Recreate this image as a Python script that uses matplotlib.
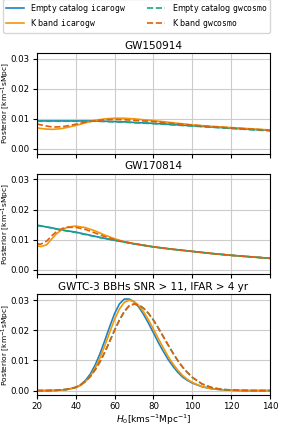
import matplotlib
matplotlib.use("Agg")
import matplotlib.pyplot as plt

# H0 grid used for the two single-event panels
h0_ev = [20, 22, 25, 28, 30, 33, 36, 40, 45, 50, 55, 60, 65, 70, 80, 90, 100, 110, 120, 130, 140]

# GW150914
gw150914_empty_icarogw = [0.0093, 0.0093, 0.0093, 0.0093, 0.0093, 0.0093, 0.0093, 0.0093, 0.0093, 0.0093,
                          0.0092, 0.0091, 0.0090, 0.0088, 0.0085, 0.0081, 0.0077, 0.0073, 0.0069, 0.0065, 0.0062]
gw150914_k_icarogw = [0.0070, 0.0068, 0.0066, 0.0065, 0.0066, 0.0068, 0.0072, 0.0078, 0.0087, 0.0095,
                      0.0100, 0.0102, 0.0102, 0.0100, 0.0094, 0.0087, 0.0080, 0.0075, 0.0071, 0.0067, 0.0063]
gw150914_empty_gwcosmo = [0.0092, 0.0092, 0.0092, 0.0092, 0.0092, 0.0092, 0.0092, 0.0092, 0.0092, 0.0092,
                          0.0091, 0.0090, 0.0089, 0.0087, 0.0084, 0.0080, 0.0076, 0.0072, 0.0068, 0.0064, 0.0060]
gw150914_k_gwcosmo = [0.0083, 0.0080, 0.0076, 0.0073, 0.0073, 0.0074, 0.0077, 0.0082, 0.0089, 0.0094,
                      0.0097, 0.0098, 0.0097, 0.0095, 0.0091, 0.0085, 0.0079, 0.0074, 0.0070, 0.0066, 0.0062]

# GW170814
gw170814_empty_icarogw = [0.0148, 0.0146, 0.0142, 0.0139, 0.0136, 0.0132, 0.0129, 0.0125, 0.0118, 0.0111,
                          0.0104, 0.0098, 0.0092, 0.0086, 0.0076, 0.0068, 0.0061, 0.0054, 0.0048, 0.0043, 0.0038]
gw170814_k_icarogw = [0.0080, 0.0077, 0.0083, 0.0105, 0.0119, 0.0134, 0.0142, 0.0145, 0.0140, 0.0129,
                      0.0115, 0.0103, 0.0093, 0.0087, 0.0076, 0.0068, 0.0061, 0.0054, 0.0048, 0.0043, 0.0038]
gw170814_empty_gwcosmo = [0.0147, 0.0145, 0.0142, 0.0138, 0.0135, 0.0132, 0.0128, 0.0124, 0.0117, 0.0110,
                          0.0104, 0.0098, 0.0092, 0.0086, 0.0076, 0.0068, 0.0061, 0.0054, 0.0048, 0.0043, 0.0038]
gw170814_k_gwcosmo = [0.0086, 0.0085, 0.0095, 0.0115, 0.0126, 0.0137, 0.0141, 0.0141, 0.0134, 0.0122,
                      0.0110, 0.0100, 0.0093, 0.0087, 0.0076, 0.0068, 0.0061, 0.0054, 0.0048, 0.0043, 0.0038]

# GWTC-3 BBHs
h0_cat = [20, 25, 30, 35, 40, 42.5, 45, 47.5, 50, 52.5, 55, 57.5, 60, 62.5, 65, 67.5, 70, 72.5, 75, 77.5,
          80, 82.5, 85, 87.5, 90, 92.5, 95, 97.5, 100, 105, 110, 115, 120, 125, 130, 140]
bbh_empty_icarogw = [0.0, 0.0, 0.00005, 0.0003, 0.0010, 0.0019, 0.0034, 0.0055, 0.0085, 0.0123, 0.0167, 0.0213,
                     0.0256, 0.0288, 0.0304, 0.0304, 0.0295, 0.0277, 0.0252, 0.0223, 0.0192, 0.0160, 0.0131,
                     0.0104, 0.0081, 0.0061, 0.0045, 0.0034, 0.0025, 0.0013, 0.0006, 0.0003, 0.0001, 0.0, 0.0, 0.0]
bbh_k_icarogw = [0.0, 0.0, 0.0001, 0.0003, 0.0010, 0.0017, 0.0030, 0.0048, 0.0075, 0.0109, 0.0150, 0.0194,
                 0.0237, 0.0271, 0.0293, 0.0300, 0.0296, 0.0282, 0.0261, 0.0234, 0.0204, 0.0173, 0.0143,
                 0.0114, 0.0089, 0.0068, 0.0050, 0.0037, 0.0027, 0.0013, 0.0006, 0.0003, 0.0001, 0.0, 0.0, 0.0]
bbh_empty_gwcosmo = [0.0, 0.0, 0.0001, 0.0004, 0.0011, 0.0019, 0.0031, 0.0047, 0.0069, 0.0096, 0.0128, 0.0164,
                     0.0201, 0.0235, 0.0263, 0.0282, 0.0288, 0.0284, 0.0273, 0.0256, 0.0234, 0.0208, 0.0180,
                     0.0152, 0.0125, 0.0100, 0.0078, 0.0060, 0.0044, 0.0022, 0.0010, 0.0004, 0.0002, 0.0001, 0.0, 0.0]
bbh_k_gwcosmo = [0.0, 0.0, 0.0001, 0.0004, 0.0011, 0.0019, 0.0031, 0.0047, 0.0069, 0.0096, 0.0128, 0.0164,
                 0.0200, 0.0234, 0.0262, 0.0281, 0.0287, 0.0284, 0.0273, 0.0256, 0.0234, 0.0208, 0.0180,
                 0.0152, 0.0125, 0.0100, 0.0078, 0.0060, 0.0044, 0.0022, 0.0010, 0.0004, 0.0002, 0.0001, 0.0, 0.0]

titles = ["GW150914", "GW170814", "GWTC-3 BBHs SNR > 11, IFAR > 4 yr"]
labels = [r"Empty catalog $\mathtt{icarogw}$", r"K band $\mathtt{icarogw}$",
          r"Empty catalog $\mathtt{gwcosmo}$", r"K band $\mathtt{gwcosmo}$"]
colors = ["#1f82c0", "#f0980a", "#1aa87e", "#e0600d"]
styles = ["-", "-", "--", "--"]

panels = [
    (h0_ev, [gw150914_empty_icarogw, gw150914_k_icarogw, gw150914_empty_gwcosmo, gw150914_k_gwcosmo]),
    (h0_ev, [gw170814_empty_icarogw, gw170814_k_icarogw, gw170814_empty_gwcosmo, gw170814_k_gwcosmo]),
    (h0_cat, [bbh_empty_icarogw, bbh_k_icarogw, bbh_empty_gwcosmo, bbh_k_gwcosmo]),
]

fig, axes = plt.subplots(3, 1, figsize=(3.0, 4.44), dpi=100, sharex=True, sharey=True)
fig.subplots_adjust(left=0.123, right=0.9, top=0.881, bottom=0.110, hspace=0.2)

for ax, title, (x, ys) in zip(axes, titles, panels):
    for y, lab, c, ls in zip(ys, labels, colors, styles):
        ax.plot(x, y, ls, color=c, lw=1.2, label=lab)
    ax.set_title(title, fontsize=7.5, pad=3)
    ax.set_ylabel(r"Posterior [km$^{-1}$sMpc]", fontsize=5.4)
    ax.yaxis.set_label_coords(-0.105, 0.5)
    ax.grid(True, color="#cccccc", lw=0.8)
    ax.tick_params(labelsize=6.2, length=3, pad=2)

axes[0].set_xlim(20, 140)
axes[0].set_yticks([0.0, 0.01, 0.02, 0.03])
axes[2].set_xlabel(r"$H_0$[kms$^{-1}$Mpc$^{-1}$]", fontsize=6.5, labelpad=1)

handles, labs = axes[0].get_legend_handles_labels()
fig.legend(handles, labs, ncol=2, fontsize=5.8, loc="lower left",
           bbox_to_anchor=(0.01, 0.926, 0.89, 0.067), mode="expand", frameon=True,
           handlelength=2.2, columnspacing=1.0, borderpad=0.35, labelspacing=0.25,
           borderaxespad=0.0)

fig.savefig("out.png", dpi=100)
